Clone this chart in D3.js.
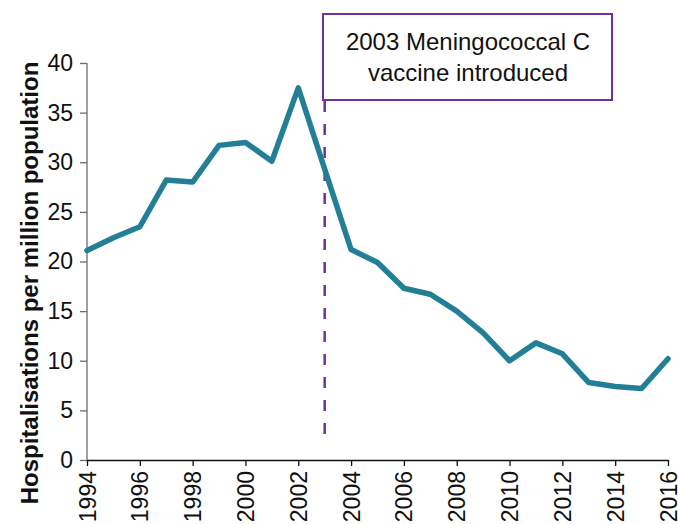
<!DOCTYPE html>
<html>
<head>
<meta charset="utf-8">
<script src="https://cdn.jsdelivr.net/npm/d3@7"></script>
<style>
  body { margin: 0; background: #fff; }
  svg text { font-family: "Liberation Sans", Arial, sans-serif; }
</style>
</head>
<body>
<div id="plot"></div>
<script>
var years = [1994, 1995, 1996, 1997, 1998, 1999, 2000, 2001, 2002, 2003, 2004, 2005,
             2006, 2007, 2008, 2009, 2010, 2011, 2012, 2013, 2014, 2015, 2016];
var rates = [21.1, 22.4, 23.5, 28.2, 28.0, 31.7, 32.0, 30.1, 37.5, 29.3, 21.2, 19.9,
             17.3, 16.7, 15.0, 12.8, 10.0, 11.8, 10.7, 7.8, 7.4, 7.2, 10.2];
var x_ticks = [1994, 1996, 1998, 2000, 2002, 2004, 2006, 2008, 2010, 2012, 2014, 2016];
var y_ticks = [0, 5, 10, 15, 20, 25, 30, 35, 40];
var vaccine_year = 2003;
var note_lines = ["2003 Meningococcal C", "vaccine introduced"];

var width = 678, height = 524;
var m_left = 87, m_right = 668, m_top = 63, m_bottom = 460;

var svg = d3.select("div#plot")
    .append("svg")
        .attr("width", width)
        .attr("height", height);

var x_scale = d3.scaleLinear()
    .domain([1994, 2016])
    .range([m_left, m_right]);

var y_scale = d3.scaleLinear()
    .domain([0, 40])
    .range([m_bottom, m_top]);

// Y axis, gray line with outward ticks
var g_y = svg.append("g")
    .attr("transform", "translate(" + m_left + ",0)")
    .call(d3.axisLeft(y_scale).tickValues(y_ticks).tickSize(7).tickSizeOuter(0).tickPadding(7));
g_y.select("path.domain").attr("d", "M0," + m_bottom + "V" + m_top);
g_y.selectAll("path, line").attr("stroke", "#6d6d6d").attr("stroke-width", 1.3);
g_y.selectAll("text").attr("font-size", 23).attr("fill", "#111");

// X axis, rotated year labels
var g_x = svg.append("g")
    .attr("transform", "translate(0," + m_bottom + ")")
    .call(d3.axisBottom(x_scale).tickValues(x_ticks).tickFormat(d3.format("d")).tickSize(6).tickSizeOuter(0));
g_x.selectAll("path, line").attr("stroke", "#111").attr("stroke-width", 1.3);
g_x.selectAll("text")
    .attr("font-size", 23)
    .attr("fill", "#111")
    .attr("transform", "rotate(-90)")
    .attr("text-anchor", "end")
    .attr("x", -11)
    .attr("y", 0)
    .attr("dy", "0.35em");

// Y axis title
svg.append("text")
    .attr("transform", "translate(30,283) rotate(-90)")
    .attr("text-anchor", "middle")
    .attr("dy", "0.35em")
    .attr("font-size", 24)
    .attr("font-weight", "bold")
    .attr("fill", "#111")
    .text("Hospitalisations per million population");

// Vaccine marker
svg.append("line")
    .attr("x1", x_scale(vaccine_year))
    .attr("x2", x_scale(vaccine_year))
    .attr("y1", 101)
    .attr("y2", 442)
    .attr("stroke", "#7030a0")
    .attr("stroke-width", 2.5)
    .attr("stroke-dasharray", "11,12");

// Data line
var line = d3.line()
    .x(function(d, i) { return x_scale(years[i]); })
    .y(function(d) { return y_scale(d); });

svg.append("path")
    .datum(rates)
    .attr("d", line)
    .attr("fill", "none")
    .attr("stroke", "#227f96")
    .attr("stroke-width", 5.5)
    .attr("stroke-linejoin", "round")
    .attr("stroke-linecap", "round");

// Annotation box
svg.append("rect")
    .attr("x", 323)
    .attr("y", 14)
    .attr("width", 289)
    .attr("height", 86)
    .attr("fill", "#fff")
    .attr("stroke", "#7030a0")
    .attr("stroke-width", 2);

svg.append("g")
    .selectAll("text")
    .data(note_lines)
    .join("text")
        .attr("x", 468)
        .attr("y", function(d, i) { return 42 + i * 31; })
        .attr("text-anchor", "middle")
        .attr("dy", "0.35em")
        .attr("font-size", 24)
        .attr("fill", "#111")
        .text(function(d) { return d; });
</script>
</body>
</html>
